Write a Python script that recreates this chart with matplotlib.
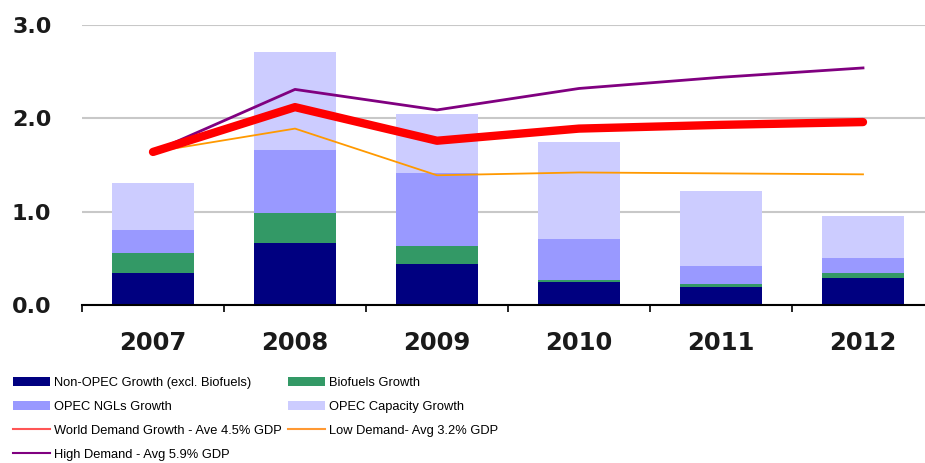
import numpy as np
import matplotlib
matplotlib.use("Agg")
import matplotlib.pyplot as plt
from matplotlib.lines import Line2D

years = ["2007", "2008", "2009", "2010", "2011", "2012"]

# stacked bar segments (mb/d)
non_opec = [0.34, 0.66, 0.44, 0.25, 0.19, 0.29]
biofuels = [0.22, 0.33, 0.19, 0.02, 0.035, 0.05]
opec_ngl = [0.24, 0.67, 0.78, 0.44, 0.195, 0.16]
opec_cap = [0.51, 1.05, 0.64, 1.04, 0.80, 0.45]

# demand scenarios
world_demand = [1.64, 2.12, 1.76, 1.89, 1.93, 1.96]
low_demand = [1.64, 1.89, 1.39, 1.42, 1.41, 1.40]
high_demand = [1.64, 2.31, 2.09, 2.32, 2.44, 2.54]

plt.rcParams['font.family'] = ['Liberation Sans', 'DejaVu Sans']

fig = plt.figure(figsize=(9.25, 4.63), dpi=100)
ax = fig.add_axes([82/925, 158/463, 852/925, 280/463])

x = np.arange(len(years))
w = 0.58
b1 = ax.bar(x, non_opec, w, color="#000080", zorder=2)
bottom = np.array(non_opec)
b2 = ax.bar(x, biofuels, w, bottom=bottom, color="#339966", zorder=2)
bottom = bottom + np.array(biofuels)
b3 = ax.bar(x, opec_ngl, w, bottom=bottom, color="#9999FF", zorder=2)
bottom = bottom + np.array(opec_ngl)
b4 = ax.bar(x, opec_cap, w, bottom=bottom, color="#CCCCFF", zorder=2)

ax.plot(x, low_demand, color="#FF9900", lw=1.3, zorder=3)
ax.plot(x, high_demand, color="#800080", lw=2.0, zorder=3)
ax.plot(x, world_demand, color="#FF0000", lw=6, zorder=4,
        solid_capstyle="round", solid_joinstyle="round")

ax.set_xlim(-0.5, 5.5)
ax.set_ylim(0, 3.0)
ax.set_yticks([0, 1, 2, 3])
ax.set_yticklabels(["0.0", "1.0", "2.0", "3.0"])
ax.set_xticks(x)
ax.set_xticklabels(years)
ax.set_xticks(np.arange(-0.5, 5.6, 1), minor=True)
ax.tick_params(axis="y", length=0, pad=22)
ax.tick_params(axis="x", which="major", length=0, pad=19)
ax.tick_params(axis="x", which="minor", length=5, width=1.2, direction="out")
for t in ax.get_yticklabels():
    t.set_family("DejaVu Sans")
    t.set_fontsize(16)
    t.set_fontweight("bold")
    t.set_color("#1a1a1a")
for t in ax.get_xticklabels():
    t.set_family("DejaVu Sans")
    t.set_fontsize(17.5)
    t.set_fontweight("bold")
    t.set_color("#1a1a1a")

ax.grid(axis="y", color="#C8C8C8", lw=1.5, zorder=0)
ax.set_axisbelow(True)
for s in ["top", "right", "left"]:
    ax.spines[s].set_visible(False)
ax.spines["bottom"].set_linewidth(1.5)

h_world = Line2D([], [], color="#FF5555", lw=1.5)
h_low = Line2D([], [], color="#FF9933", lw=1.5)
h_high = Line2D([], [], color="#800080", lw=1.5)

leg_kw = dict(loc="upper left", frameon=False, fontsize=9.3,
              handlelength=2.9, handleheight=0.7, handletextpad=0.25,
              labelspacing=0.92, borderaxespad=0, borderpad=0)
fig.legend([b1, b3, h_world, h_high],
           ["Non-OPEC Growth (excl. Biofuels)", "OPEC NGLs Growth",
            "World Demand Growth - Ave 4.5% GDP",
            "High Demand - Avg 5.9% GDP"],
           bbox_to_anchor=(13/925, 1 - 377/463), **leg_kw)
fig.legend([b2, b4, h_low],
           ["Biofuels Growth", "OPEC Capacity Growth",
            "Low Demand- Avg 3.2% GDP"],
           bbox_to_anchor=(288/925, 1 - 377/463), **leg_kw)

fig.savefig("out.png", dpi=100)
